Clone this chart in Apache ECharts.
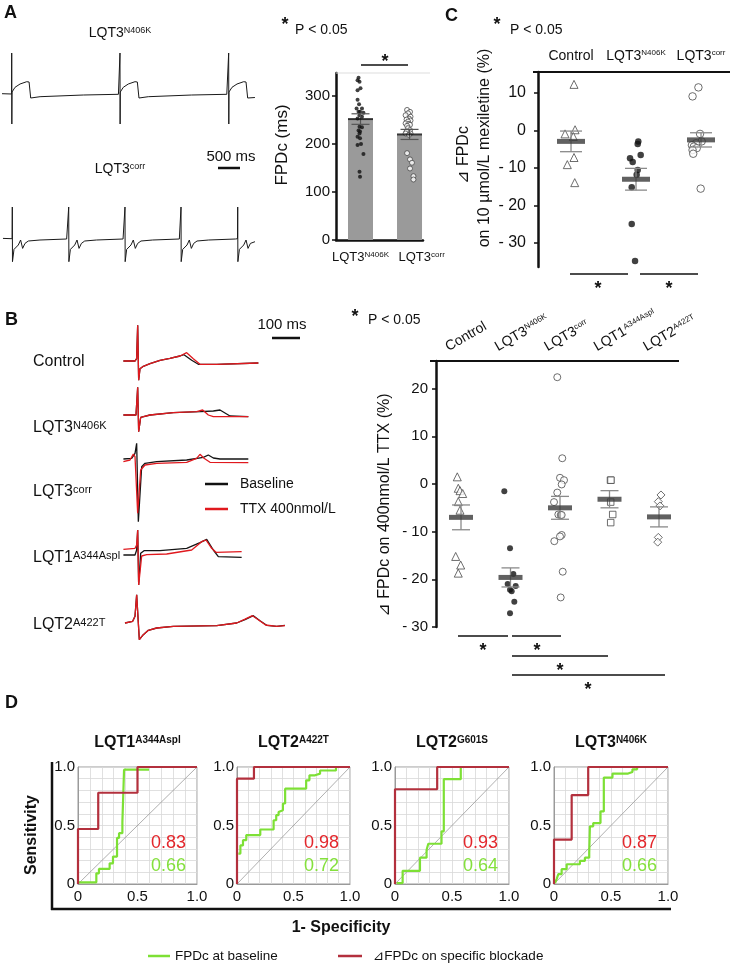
<!DOCTYPE html>
<html>
<head>
<meta charset="utf-8">
<script src="https://cdn.jsdelivr.net/npm/echarts@6.0.0/dist/echarts.min.js"></script>
<style>
html,body{margin:0;padding:0;background:#ffffff;}
#chart{width:736px;height:965px;}
</style>
</head>
<body>
<div id="chart"></div>
<script>
// ======================= DATA =======================
// Panel A – representative field potentials (time in ms, amplitude in a.u.)
const traceA_N406K = [[48,0.3],[276,0],[279,41],[282,-30],[286,2],[358,6.7],[477,10],[636,12.3],[692,12],[731,-4],[954,-2.7],[1985,-1],[2820,-0.3],
  [2854,0],[2857,41],[2860,-30],[2864,2],[2936,6.7],[3055,10],[3214,12.3],[3270,12],[3309,-4],[3532,-2.7],[4563,-1],[5400,-0.3],
  [5442,0],[5445,41],[5448,-30],[5452,2],[5524,6.7],[5643,10],[5802,12.3],[5858,12],[5897,-4],[6070,-3.5]];
const traceA_corr = [[71,0.3],
  [288,0],[293,31.7],[297,-23],[333,-10.7],[380,-10],[436,-6.3],[491,-1.3],[539,-9.7],[595,-4.7],[674,-2.3],[952,-1.3],[1587,-0.3],
  [1631,0],[1636,31.7],[1640,-23],[1676,-10.7],[1723,-10],[1779,-6.3],[1834,-1.3],[1882,-9.7],[1938,-4.7],[2017,-2.3],[2295,-1.3],[2930,-0.3],
  [2971,0],[2976,31.7],[2980,-23],[3016,-10.7],[3063,-10],[3119,-6.3],[3174,-1.3],[3222,-9.7],[3278,-4.7],[3357,-2.3],[3635,-1.3],[4270,-0.3],
  [4305,0],[4310,31.7],[4314,-23],[4350,-10.7],[4397,-10],[4453,-6.3],[4508,-1.3],[4556,-9.7],[4612,-4.7],[4691,-2.3],[4969,-1.3],[5604,-0.3],
  [5655,0],[5660,31.7],[5664,-23],[5700,-10.7],[5747,-10],[5803,-6.3],[5858,-1.3],[5906,-9.7],[5962,-4.7],[6071,-3]];
const traceATitles = [['LQT3','N406K'],['LQT3','corr']];

// Panel A – FPDc bar chart (ms)
const barCats = [['LQT3','N406K'],['LQT3','corr']];
const barMeans = [252, 220];
const barSEM = [11, 10.5];
const fpdcN406K = [338,333,330,316,312,292,283,274,274,267,267,265,260,257,253,236,235,228,226,222,215,212,200,198,179,142,132];
const jitN406K  = [-0.04,-0.06,-0.02,0,-0.06,-0.06,-0.03,-0.08,0.03,-0.04,-0.01,0.06,-0.02,0.03,-0.06,-0.02,0.03,-0.04,-0.01,-0.02,-0.06,-0.01,0.01,-0.06,0.06,-0.02,-0.01];
const fpdcCorr  = [271,267,264,260,257,253,251,249,247,243,242,240,238,233,229,226,222,222,219,181,168,161,149,133,126];
const jitCorr   = [-0.05,0.01,-0.03,-0.08,0.02,-0.01,-0.06,0.02,-0.03,-0.08,-0.01,0.01,-0.05,-0.03,0.01,-0.06,0.02,-0.08,-0.01,-0.05,0.01,0.05,0.01,0.08,0.08];
const barTicks = [0,100,200,300];

// Panel C – ΔFPDc on 10 µmol/L mexiletine (%)
const mexCats = [['Control',''],['LQT3','N406K'],['LQT3','corr']];
const mexCtrl = [12.3,0.2,-0.9,-1.6,-7.2,-9.1,-13.9];
const mexCtrlJit = [0.046,0.062,-0.092,0.035,0.046,-0.057,0.057];
const mexN406K = [-2.9,-3.6,-6.5,-7.4,-8.4,-10.5,-11.8,-15.1,-24.9,-34.8];
const mexN406KJit = [0.035,0.026,0.072,-0.092,-0.051,0.026,0.01,-0.066,-0.066,-0.015];
const mexCorr = [11.5,9.1,-0.9,-2.9,-3.4,-3.9,-4.3,-4.7,-5.2,-6.2,-15.5];
const mexCorrJit = [-0.04,-0.13,-0.015,0.01,-0.077,-0.14,-0.11,-0.066,-0.13,-0.12,-0.005];
const mexMeans = [-2.9,-13.0,-2.5];
const mexSEM = [2.75,2.9,1.9];
const mexTicks = [-30,-20,-10,0,10];

// Panel B – field potentials, baseline (black) vs TTX 400 nmol/L (red); time ms, amplitude a.u.
const traceRows = [['Control',''],['LQT3','N406K'],['LQT3','corr'],['LQT1','A344Aspl'],['LQT2','A422T']];
const ctrlBase = [[78,0],[117,0],[122,2.3],[125.6,35.7],[128.9,-19.3],[133.3,-7.7],[144.4,-5.3],[166.7,-2.7],[200,0.7],[233,2.7],[266.7,5],[280,6.3],[305.6,0.7],[327.8,-3.3],[388.9,-3.3],[527.8,-2]];
const ctrlTTX  = [[78,0],[117,0],[122,2.3],[125.6,35.7],[128.9,-19.3],[133.3,-7.7],[144.4,-5.3],[166.7,-2.7],[200,0.7],[233,2.7],[266.7,5],[288.9,8.3],[311,2.3],[333.3,-3.3],[388.9,-3.3],[527.8,-2]];
const n406kBase = [[78,0],[120,0],[125.6,27.7],[128.9,-16.7],[135.6,-2.3],[166.7,0],[244.4,2.3],[333.3,3.3],[377.8,4],[400,5],[433.3,-1],[494.4,-1.7]];
const n406kTTX  = [[78,0],[120,0],[125.6,27.7],[128.9,-16.7],[135.6,-2.3],[166.7,0],[244.4,2.3],[322.2,3.3],[342.2,5],[361.1,0],[377.8,-1.7],[494.4,-1.7]];
const corrBase = [[78,0],[105.6,0.7],[116.7,5.7],[122.2,15.7],[127.8,-62.7],[138.9,-7.7],[150,-4.3],[188.9,-2.7],[288.9,-1],[344.4,1.7],[361.1,4],[377.8,1],[400,0],[494.4,0]];
const corrTTX  = [[78,-2.7],[100,-1],[111.1,5],[116.7,2.3],[125.6,-54.3],[135.6,-11],[150,-6],[188.9,-4.3],[288.9,-3.3],[322.2,0.7],[333.3,4.7],[346.7,0.7],[366.7,-3.3],[494.4,-3.7]];
const lqt1Base = [[78,0],[116.7,0],[122.2,5],[125.6,25],[128.9,-30],[135.6,1.7],[146.7,4.3],[200,4.3],[288.9,6.7],[333.3,12.3],[355.6,15.7],[377.8,5],[394.4,-1.7],[472.2,-2.3]];
const lqt1TTX  = [[78,5.7],[116.7,6.7],[122.2,10],[125.6,25],[128.9,-30],[138.9,-1],[155.6,0.3],[222.2,1],[305.6,5],[338.9,13.3],[353.3,15],[372.2,6.7],[386.7,2.7],[472.2,3.3]];
const lqt2Base = [[83.3,0],[108.9,1.7],[116.7,6.7],[122.2,28.3],[131.1,-16.7],[144.4,-11.7],[161.1,-7.3],[188.9,-5],[244.4,-3.3],[388.9,-2.7],[455.6,0],[483.3,3.3],[511.1,7.3],[533.3,2.3],[555.6,-2.3],[588.9,-3.3],[616.7,-2.3]];
const lqt2TTX  = [[83.3,0],[108.9,1.7],[116.7,6.7],[122.2,28.3],[131.1,-16.7],[144.4,-11.7],[161.1,-7.3],[188.9,-5],[244.4,-3.3],[388.9,-2.7],[455.6,0],[483.3,3.8],[508,7.3],[530,2.8],[552,-2],[588.9,-3.3],[616.7,-2.7]];

// Panel B – ΔFPDc on 400 nmol/L TTX (%)
const ttxCats = [['Control',''],['LQT3','N406K'],['LQT3','corr'],['LQT1','A344Aspl'],['LQT2','A422T']];
const ttxCtrl = [1.5,-0.9,-1.4,-2.0,-3.7,-5.5,-15.2,-17.0,-18.7];
const ttxCtrlJit = [-0.075,-0.055,-0.02,0.034,-0.055,-0.02,-0.107,-0.006,-0.055];
const ttxN406K = [-1.5,-13.5,-18.9,-21.0,-21.4,-22.2,-22.5,-24.7,-27.1];
const ttxN406KJit = [-0.125,-0.01,0.057,-0.057,0.105,-0.01,0.024,0.077,-0.01];
const ttxCorr = [22.4,5.4,1.3,0.8,-0.1,-1.8,-3.8,-6.4,-6.5,-6.5,-10.7,-11.0,-12.0,-18.4,-23.8];
const ttxCorrJit = [-0.055,0.046,0,0.081,0.034,-0.055,-0.121,-0.034,0.014,0.034,0.034,0,-0.115,0.055,0.014];
const ttxLQT1 = [0.8,0.8,-3.8,-6.4,-8.1];
const ttxLQT1Jit = [0.02,0.03,0.024,0.065,0.024];
const ttxLQT2 = [-2.3,-3.7,-4.6,-11.2,-12.2];
const ttxLQT2Jit = [0.04,-0.014,0.02,-0.014,-0.026];
const ttxMeans = [-7.0,-19.6,-5.0,-3.2,-6.9];
const ttxSEM = [2.6,2.0,2.4,1.8,2.1];
const ttxTicks = [-30,-20,-10,0,10,20];

// Panel D – ROC curves (1-specificity, sensitivity)
const rocTitles = [['LQT1','A344Aspl'],['LQT2','A422T'],['LQT2','G601S'],['LQT3','N406K']];
const rocBlockLQT1 = [[0,0],[0,0.47],[0.17,0.78],[0.5,1],[1,1]];
const rocBaseLQT1  = [[0,0.014],[0.154,0.091],[0.176,0.129],[0.266,0.177],[0.294,0.234],[0.328,0.394],[0.345,0.434],[0.373,0.529],[0.387,0.977],[0.597,0.977]];
const rocBlockA422T = [[0,0],[0,0.9],[0.15,1],[1,1]];
const rocBaseA422T  = [[0.012,0.26],[0.03,0.33],[0.053,0.375],[0.082,0.418],[0.206,0.466],[0.324,0.545],[0.347,0.588],[0.368,0.616],[0.382,0.631],[0.406,0.688],[0.426,0.815],[0.612,0.886],[0.641,0.929],[0.691,0.943],[0.735,0.97],[0.876,0.994]];
const rocBlockG601S = [[0,0],[0,0.81],[0.37,1],[1,1]];
const rocBaseG601S  = [[0.015,0.008],[0.067,0.113],[0.219,0.225],[0.277,0.29],[0.292,0.344],[0.408,0.45],[0.428,0.896],[0.577,0.994]];
const rocBlockN406K = [[0,0],[0,0.38],[0.155,0.76],[0.30,1],[1,1]];
const rocBaseN406K  = [[0.009,0.008],[0.023,0.042],[0.038,0.085],[0.067,0.127],[0.111,0.169],[0.227,0.197],[0.271,0.225],[0.309,0.268],[0.315,0.493],[0.344,0.521],[0.408,0.62],[0.437,0.91],[0.513,0.944],[0.65,0.958],[0.688,0.98],[0.729,0.994]];
const aucBlock = [0.83,0.98,0.93,0.87];
const aucBaseline = [0.66,0.72,0.64,0.66];
const rocTicks = [0,0.5,1];

// ======================= BUILD =======================
const FONT = "'Liberation Sans','DejaVu Sans','Noto Sans CJK JP',sans-serif";
const INK = '#111111';
const RED_TRACE = '#e0191e';
const ROC_RED = '#b3303d';
const ROC_GREEN = '#7de035';
const AUC_RED = '#e3262b';
const AUC_GREEN = '#84e03c';

const grids = [], xAxes = [], yAxes = [], series = [], graphics = [];
function addGrid(box, xa, ya) {
  const i = grids.length;
  grids.push(Object.assign({show:false}, box));
  xAxes.push(Object.assign({type:'value', gridIndex:i}, xa));
  yAxes.push(Object.assign({type:'value', gridIndex:i}, ya));
  return i;
}
function hid(min, max) { return {min, max, show:false, axisLine:{onZero:false}}; }
function supFmt(c) { return c[1] ? '{b|' + c[0] + '}{s|' + c[1] + '}' : '{b|' + c[0] + '}'; }
function richEC(size, supSize, bold) {
  const fw = bold ? 'bold' : 'normal';
  return {b:{fontSize:size, fontFamily:FONT, color:INK, fontWeight:fw},
          s:{fontSize:supSize, fontFamily:FONT, color:INK, fontWeight:fw, verticalAlign:'top'}};
}
function richZR(size, supSize, bold) {
  const fw = bold ? 'bold' : 'normal';
  return {b:{fontSize:size, fontFamily:FONT, fill:INK, fontWeight:fw},
          s:{fontSize:supSize, fontFamily:FONT, fill:INK, fontWeight:fw, verticalAlign:'top'}};
}
function txt(x, y, text, o) {
  o = o || {};
  const st = {text, fill:o.color || INK, fontSize:o.size || 14, fontFamily:FONT,
    fontWeight:o.bold ? 'bold' : 'normal',
    textAlign:o.align || 'left', textVerticalAlign:o.va || 'middle',
    align:o.align || 'left', verticalAlign:o.va || 'middle'};
  if (o.rich) st.rich = o.rich;
  return {type:'text', x, y, rotation:o.rot || 0, silent:true, z:100, style:st};
}
function rtxt(x, y, cat, size, supSize, o) {
  o = Object.assign({}, o || {});
  o.rich = richZR(size, supSize, o.bold);
  return txt(x, y, supFmt(cat), o);
}
function seg(x1, y1, x2, y2, color, w) {
  return {type:'line', silent:true, z:100, shape:{x1, y1, x2, y2}, style:{stroke:color || INK, lineWidth:w || 1.5}};
}
function traceSeries(g, data, color, w) {
  return {type:'line', xAxisIndex:g, yAxisIndex:g, data, symbol:'none', showSymbol:false,
          lineStyle:{color, width:w}, silent:true, clip:false};
}
function errSeries(g, means, sems, cap, color, lw) {
  return {type:'custom', xAxisIndex:g, yAxisIndex:g, silent:true, z:4,
    data: means.map((m, i) => [i, m - sems[i], m + sems[i]]),
    renderItem(params, api) {
      const x = api.value(0);
      const p1 = api.coord([x, api.value(2)]), p2 = api.coord([x, api.value(1)]);
      const st = {stroke:color, lineWidth:lw};
      return {type:'group', children:[
        {type:'line', shape:{x1:p1[0], y1:p1[1], x2:p2[0], y2:p2[1]}, style:st},
        {type:'line', shape:{x1:p1[0]-cap/2, y1:p1[1], x2:p1[0]+cap/2, y2:p1[1]}, style:st},
        {type:'line', shape:{x1:p2[0]-cap/2, y1:p2[1], x2:p2[0]+cap/2, y2:p2[1]}, style:st}]};
    }};
}
function meanSeries(g, means, size, color) {
  return {type:'scatter', xAxisIndex:g, yAxisIndex:g, silent:true, z:5,
    data: means.map((m, i) => [i, m]), symbol:'rect', symbolSize:size, itemStyle:{color}};
}
function ptsSeries(g, cat, vals, jit, symbol, size, filled) {
  return {type:'scatter', xAxisIndex:g, yAxisIndex:g, silent:true, z:3,
    data: vals.map((v, i) => [cat + jit[i], v]), symbol, symbolSize:size,
    itemStyle: filled ? {color:INK} : {color:'#ffffff', borderColor:'#4a4a4a', borderWidth:1}};
}
const signedFmt = v => v === 0 ? '0' : (v < 0 ? '- ' + (-v) : String(v));
function valueYAxis(min, max, ticks, fmt, size, margin) {
  return {min, max, axisLine:{show:true, onZero:false, lineStyle:{color:INK, width:2.5}},
    axisTick:{show:true, length:4, customValues:ticks, lineStyle:{color:INK, width:1.5}},
    splitLine:{show:false},
    axisLabel:{customValues:ticks, formatter:fmt, fontSize:size, color:INK, fontFamily:FONT, margin}};
}

// ---------- Panel A ----------
graphics.push(txt(4, 4, 'A', {bold:true, size:18, va:'top'}));
const gA1 = addGrid({left:0, top:44, width:258, height:100}, hid(0, 6143), hid(-50, 50));
series.push(traceSeries(gA1, traceA_N406K, '#1a1a1a', 1));
const gA2 = addGrid({left:0, top:188.7, width:258, height:100}, hid(0, 6143), hid(-50, 50));
series.push(traceSeries(gA2, traceA_corr, '#1a1a1a', 1));
graphics.push(rtxt(120, 33, traceATitles[0], 14, 9, {align:'center'}));
graphics.push(rtxt(120, 169, traceATitles[1], 14, 9, {align:'center'}));
graphics.push(txt(231, 157, '500 ms', {size:15, align:'center'}));
graphics.push(seg(218, 168, 240, 168, INK, 2.5));

const barBox = {left:336, top:73, width:87, height:167};
const barXmin = -0.5, barXmax = 1.275;
const gBar = addGrid(barBox,
  {min:barXmin, max:barXmax, axisLine:{show:true, onZero:false, lineStyle:{color:INK, width:2.5}}, axisTick:{show:false}, splitLine:{show:false},
   axisLabel:{show:false}},
  valueYAxis(0, 348, barTicks, v => String(v), 15, 6));
series.push({type:'bar', xAxisIndex:gBar, yAxisIndex:gBar, silent:true, z:1,
  data: barMeans.map((m, i) => [i, m]), barWidth:25, itemStyle:{color:'#9a9a9a'}});
series.push(ptsSeries(gBar, 0, fpdcN406K, jitN406K, 'circle', 4, true));
series.push(ptsSeries(gBar, 1, fpdcCorr, jitCorr, 'circle', 5, false));
series.push(errSeries(gBar, barMeans, barSEM, 18, '#555555', 1.2));
series.push(meanSeries(gBar, barMeans, [25, 2], INK));
const barPx = v => barBox.left + (v - barXmin) / (barXmax - barXmin) * barBox.width;
graphics.push(rtxt(barPx(0), 257, barCats[0], 13, 8, {align:'center'}));
graphics.push(rtxt(barPx(1) - 11, 257, barCats[1], 13, 8, {align:'left'}));
graphics.push(seg(336, 73, 430, 73, '#dddddd', 1));
graphics.push(txt(285, 25, '*', {bold:true, size:18, align:'center'}));
graphics.push(txt(295, 30, 'P < 0.05', {size:14}));
graphics.push(seg(361, 65, 408, 65, INK, 1.5));
graphics.push(txt(385, 62, '*', {bold:true, size:18, align:'center'}));
graphics.push(txt(282, 145, 'FPDc (ms)', {size:17, align:'center', rot:Math.PI/2}));

// ---------- Panel C ----------
graphics.push(txt(445, 7, 'C', {bold:true, size:18, va:'top'}));
const gMex = addGrid({left:538, top:72, width:192, height:195},
  {min:-0.508, max:2.446, position:'top', axisLine:{show:false, onZero:false}, axisTick:{show:false}, splitLine:{show:false},
   axisLabel:{customValues:[0,1,2], margin:9, formatter:v => supFmt(mexCats[Math.round(v)]), rich:richEC(14, 8)}},
  valueYAxis(-36.4, 15.6, mexTicks, signedFmt, 16, 12));
series.push(ptsSeries(gMex, 0, mexCtrl, mexCtrlJit, 'triangle', 8, false));
series.push(ptsSeries(gMex, 1, mexN406K, mexN406KJit, 'circle', 6.5, true));
series.push(ptsSeries(gMex, 2, mexCorr, mexCorrJit, 'circle', 7.5, false));
series.push(errSeries(gMex, mexMeans, mexSEM, 22, '#8a8a8a', 1.3));
series.push(meanSeries(gMex, mexMeans, [28, 5], '#3a3a3a'));
graphics.push(seg(533, 72, 730, 72, INK, 2));
graphics.push(txt(497, 25, '*', {bold:true, size:18, align:'center'}));
graphics.push(txt(510, 30, 'P < 0.05', {size:14}));
graphics.push(txt(464, 155, '\u22BF FPDc', {size:16, align:'center', rot:Math.PI/2}));
graphics.push(txt(485, 148, 'on 10 \u00B5mol/L mexiletine (%)', {size:16, align:'center', rot:Math.PI/2}));
graphics.push(seg(570, 274, 628, 274, INK, 1.5));
graphics.push(seg(640, 274, 698, 274, INK, 1.5));
graphics.push(txt(598, 289, '*', {bold:true, size:18, align:'center'}));
graphics.push(txt(669, 289, '*', {bold:true, size:18, align:'center'}));

// ---------- Panel B traces ----------
graphics.push(txt(5, 311, 'B', {bold:true, size:18, va:'top'}));
const traceBase = [ctrlBase, n406kBase, corrBase, lqt1Base, lqt2Base];
const traceTTX = [ctrlTTX, n406kTTX, corrTTX, lqt1TTX, lqt2TTX];
const rowBaseline = [361, 415, 459, 555, 623];
const rowLabelY = [362, 428, 492, 558, 625];
traceRows.forEach((row, i) => {
  const g = addGrid({left:100, top:rowBaseline[i] - 50, width:200, height:120}, hid(0, 666.67), hid(-70, 50));
  series.push(traceSeries(g, traceBase[i], '#151515', 1.3));
  series.push(traceSeries(g, traceTTX[i], RED_TRACE, 1.3));
  graphics.push(rtxt(33, rowLabelY[i], row, 16, 11));
});
graphics.push(txt(282, 325, '100 ms', {size:15, align:'center'}));
graphics.push(seg(272, 338, 300, 338, INK, 2.5));
graphics.push(seg(205, 484, 228, 484, '#111111', 2.5));
graphics.push(txt(240, 484, 'Baseline', {size:14}));
graphics.push(seg(205, 509, 228, 509, RED_TRACE, 2.5));
graphics.push(txt(240, 509, 'TTX 400nmol/L', {size:14}));

// ---------- Panel B scatter ----------
const ttxBox = {left:436, top:361, width:243, height:266};
const ttxXmin = -0.505, ttxXmax = 4.404;
const gTTX = addGrid(ttxBox,
  {min:ttxXmin, max:ttxXmax, show:false, axisLine:{onZero:false}},
  valueYAxis(-30, 25.8, ttxTicks, signedFmt, 15, 8));
series.push(ptsSeries(gTTX, 0, ttxCtrl, ttxCtrlJit, 'triangle', 8, false));
series.push(ptsSeries(gTTX, 1, ttxN406K, ttxN406KJit, 'circle', 6, true));
series.push(ptsSeries(gTTX, 2, ttxCorr, ttxCorrJit, 'circle', 7, false));
series.push(ptsSeries(gTTX, 3, ttxLQT1, ttxLQT1Jit, 'rect', 6.5, false));
series.push(ptsSeries(gTTX, 4, ttxLQT2, ttxLQT2Jit, 'diamond', 8, false));
series.push(errSeries(gTTX, ttxMeans, ttxSEM, 18, '#8a8a8a', 1.3));
series.push(meanSeries(gTTX, ttxMeans, [24, 5], '#3a3a3a'));
const ttxPx = v => ttxBox.left + (v - ttxXmin) / (ttxXmax - ttxXmin) * ttxBox.width;
ttxCats.forEach((c, i) => {
  graphics.push(rtxt(ttxPx(i) - 11, 354, c, 14, 8, {va:'bottom', rot:Math.PI/6}));
});
graphics.push(seg(430, 361, 679, 361, INK, 2));
graphics.push(txt(355, 317, '*', {bold:true, size:18, align:'center'}));
graphics.push(txt(368, 320, 'P < 0.05', {size:14}));
graphics.push(txt(385, 505, '\u22BF FPDc on 400nmol/L TTX (%)', {size:16, align:'center', rot:Math.PI/2}));
graphics.push(seg(458, 636, 508, 636, INK, 1.5));
graphics.push(seg(512, 636, 561, 636, INK, 1.5));
graphics.push(seg(512, 656, 608, 656, INK, 1.5));
graphics.push(seg(512, 675, 665, 675, INK, 1.5));
graphics.push(txt(483, 651, '*', {bold:true, size:18, align:'center'}));
graphics.push(txt(537, 651, '*', {bold:true, size:18, align:'center'}));
graphics.push(txt(560, 671, '*', {bold:true, size:18, align:'center'}));
graphics.push(txt(588, 690, '*', {bold:true, size:18, align:'center'}));

// ---------- Panel D ----------
graphics.push(txt(5, 694, 'D', {bold:true, size:18, va:'top'}));
const rocBoxes = [
  {left:78, top:767, width:119, height:117},
  {left:237, top:767, width:113, height:117},
  {left:395, top:767, width:114, height:117},
  {left:554, top:767, width:114, height:117}];
const rocBlocks = [rocBlockLQT1, rocBlockA422T, rocBlockG601S, rocBlockN406K];
const rocBases = [rocBaseLQT1, rocBaseA422T, rocBaseG601S, rocBaseN406K];
const rocFmt = v => v === 0 ? '0' : (v === 1 ? '1.0' : v.toFixed(1));
function rocAxis(margin) {
  return {min:0, max:1, interval:0.1,
    axisLine:{show:true, onZero:false, lineStyle:{color:'#9a9a9a', width:1}},
    axisTick:{show:false},
    splitLine:{show:true, lineStyle:{color:'#d8d8d8', width:0.8}},
    axisLabel:{customValues:rocTicks, formatter:rocFmt, fontSize:15, color:INK, fontFamily:FONT, margin}};
}
rocBoxes.forEach((box, i) => {
  const g = addGrid(Object.assign({}, box), rocAxis(5), rocAxis(3));
  grids[g].show = true; grids[g].borderColor = '#9a9a9a'; grids[g].borderWidth = 1; grids[g].backgroundColor = 'transparent';
  series.push({type:'line', xAxisIndex:g, yAxisIndex:g, data:[[0,0],[1,1]], symbol:'none', silent:true,
    lineStyle:{color:'#8c8c8c', width:0.7}});
  series.push({type:'line', xAxisIndex:g, yAxisIndex:g, data:rocBases[i], step:'end', symbol:'none', silent:true, clip:false,
    lineStyle:{color:ROC_GREEN, width:2.2}});
  series.push({type:'line', xAxisIndex:g, yAxisIndex:g, data:rocBlocks[i], step:'end', symbol:'none', silent:true, clip:false,
    lineStyle:{color:ROC_RED, width:2.2}});
  graphics.push(rtxt(box.left + box.width / 2, 743, rocTitles[i], 16, 10, {bold:true, align:'center'}));
  graphics.push(txt(box.left + box.width - 11, box.top + 76, aucBlock[i].toFixed(2), {size:18, align:'right', color:AUC_RED}));
  graphics.push(txt(box.left + box.width - 11, box.top + 99, aucBaseline[i].toFixed(2), {size:18, align:'right', color:AUC_GREEN}));
});
graphics.push(seg(52, 762, 52, 910, INK, 2.5));
graphics.push(seg(51, 909, 671, 909, INK, 2.5));
graphics.push(txt(32, 835, 'Sensitivity', {bold:true, size:16, align:'center', rot:Math.PI/2}));
graphics.push(txt(341, 928, '1- Specificity', {bold:true, size:16, align:'center'}));
graphics.push(seg(148, 956, 170, 956, ROC_GREEN, 2.5));
graphics.push(txt(175, 956, 'FPDc at baseline', {size:13.5}));
graphics.push(seg(338, 956, 362, 956, ROC_RED, 2.5));
graphics.push(txt(373, 956, '\u22BFFPDc on specific blockade', {size:13.5}));

const chart = echarts.init(document.getElementById('chart'), null, {renderer:'canvas'});
chart.setOption({
  animation:false,
  backgroundColor:'#ffffff',
  textStyle:{fontFamily:FONT},
  grid:grids, xAxis:xAxes, yAxis:yAxes, series, graphic:graphics
});
</script>
</body>
</html>
